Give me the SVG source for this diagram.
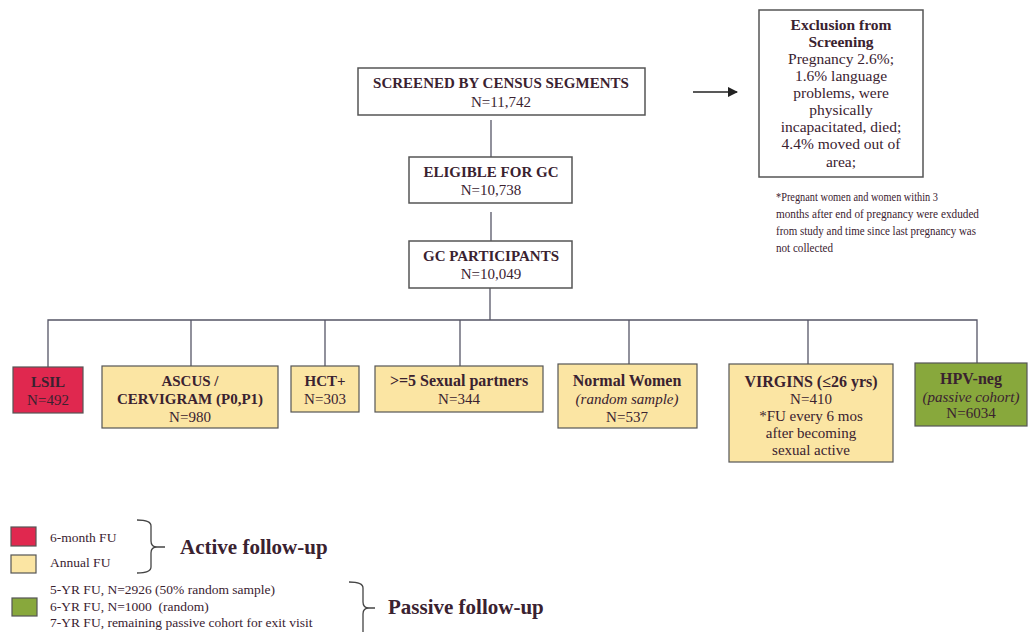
<svg xmlns="http://www.w3.org/2000/svg" width="1033" height="632" viewBox="0 0 1033 632">
<defs>
<style>
text{font-family:"Liberation Serif","DejaVu Serif",serif;fill:#3a2230;font-size:15px;}
.c{text-anchor:middle;}
.b{font-weight:bold;}
.m{font-size:16px;}
.i{font-style:italic;}
.ex{font-size:15.5px;}
.fn{font-size:13.5px;}
.lg{font-size:13.5px;}
.box{fill:#ffffff;stroke:#555555;stroke-width:1.5;}
.red{fill:#e0284f;stroke:#555555;stroke-width:1.2;}
.yel{fill:#fbe5a3;stroke:#555555;stroke-width:1.2;}
.grn{fill:#88a83c;stroke:#555555;stroke-width:1.2;}
.ln{stroke:#555566;stroke-width:1.3;fill:none;}
.br{stroke:#444444;stroke-width:1.3;fill:none;}
.big{font-size:21px;font-weight:bold;}
</style>
<marker id="ah" viewBox="0 0 10 10" refX="9" refY="5" markerWidth="7" markerHeight="7" orient="auto">
<path d="M0,0 L10,5 L0,10 z" fill="#222222"/>
</marker>
</defs>
<rect width="1033" height="632" fill="#ffffff"/>

<g id="connectors">
<line class="ln" x1="491" y1="120" x2="491" y2="157"/>
<line class="ln" x1="491" y1="212" x2="491" y2="241"/>
<line class="ln" x1="490" y1="288" x2="490" y2="320"/>
<polyline class="ln" points="48,367 48,320 977,320 977,363"/>
<line class="ln" x1="191" y1="320" x2="191" y2="366"/>
<line class="ln" x1="325" y1="320" x2="325" y2="366"/>
<line class="ln" x1="460" y1="320" x2="460" y2="366"/>
<line class="ln" x1="629" y1="320" x2="629" y2="364"/>
<line class="ln" x1="808" y1="320" x2="808" y2="364"/>
<line x1="693" y1="92" x2="737" y2="92" stroke="#222222" stroke-width="1.5" marker-end="url(#ah)"/>
</g>

<g id="screened">
<rect class="box" x="358" y="68" width="287" height="47"/>
<text class="c b" x="501" y="88">SCREENED BY CENSUS SEGMENTS</text>
<text class="c" x="501" y="107">N=11,742</text>
</g>

<g id="eligible">
<rect class="box" x="409" y="157" width="163" height="46"/>
<text class="c b" x="491" y="177">ELIGIBLE FOR GC</text>
<text class="c" x="491" y="195">N=10,738</text>
</g>

<g id="participants">
<rect class="box" x="409" y="241" width="163" height="47"/>
<text class="c b" x="491" y="261">GC PARTICIPANTS</text>
<text class="c" x="491" y="279">N=10,049</text>
</g>

<g id="exclusion">
<rect class="box" x="759" y="10" width="164" height="167"/>
<text class="c b ex" x="841" y="30">Exclusion from</text>
<text class="c b ex" x="841" y="47">Screening</text>
<text class="c ex" x="841" y="64">Pregnancy 2.6%;</text>
<text class="c ex" x="841" y="81">1.6% language</text>
<text class="c ex" x="841" y="98">problems, were</text>
<text class="c ex" x="841" y="115">physically</text>
<text class="c ex" x="841" y="132">incapacitated, died;</text>
<text class="c ex" x="841" y="149">4.4% moved out of</text>
<text class="c ex" x="841" y="167">area;</text>
</g>

<g id="footnote">
<text class="fn" x="776" y="201" textLength="162" lengthAdjust="spacingAndGlyphs">*Pregnant women and women within 3</text>
<text class="fn" x="776" y="218" textLength="203" lengthAdjust="spacingAndGlyphs">months after end of pregnancy were exduded</text>
<text class="fn" x="776" y="235" textLength="200" lengthAdjust="spacingAndGlyphs">from study and time since last pregnancy was</text>
<text class="fn" x="776" y="252" textLength="57" lengthAdjust="spacingAndGlyphs">not collected</text>
</g>

<g id="lsil">
<rect class="red" x="13" y="367" width="70" height="46"/>
<text class="c b" x="48" y="387">LSIL</text>
<text class="c" x="48" y="405">N=492</text>
</g>

<g id="ascus">
<rect class="yel" x="102" y="366" width="176" height="62"/>
<text class="c b" x="190" y="386">ASCUS /</text>
<text class="c b" x="190" y="404">CERVIGRAM (P0,P1)</text>
<text class="c" x="190" y="422">N=980</text>
</g>

<g id="hct">
<rect class="yel" x="291" y="366" width="68" height="46"/>
<text class="c b" x="325" y="386">HCT+</text>
<text class="c" x="325" y="404">N=303</text>
</g>

<g id="partners">
<rect class="yel" x="375" y="366" width="168" height="46"/>
<text class="c b m" x="459" y="386">&gt;=5 Sexual partners</text>
<text class="c" x="459" y="404">N=344</text>
</g>

<g id="normal">
<rect class="yel" x="558" y="364" width="139" height="64"/>
<text class="c b m" x="627" y="386">Normal Women</text>
<text class="c i" x="627" y="404">(random sample)</text>
<text class="c" x="627" y="422">N=537</text>
</g>

<g id="virgins">
<rect class="yel" x="729" y="364" width="164" height="98"/>
<text class="c b m" x="811" y="387">VIRGINS (≤26 yrs)</text>
<text class="c" x="811" y="404">N=410</text>
<text class="c" x="811" y="421">*FU every 6 mos</text>
<text class="c" x="811" y="438">after becoming</text>
<text class="c" x="811" y="455">sexual active</text>
</g>

<g id="hpvneg">
<rect class="grn" x="915" y="363" width="112" height="63"/>
<text class="c b m" x="971" y="384">HPV-neg</text>
<text class="c i" x="971" y="402">(passive cohort)</text>
<text class="c" x="971" y="418">N=6034</text>
</g>

<g id="legend">
<rect class="red" x="11" y="527" width="25" height="19"/>
<rect class="yel" x="11" y="555" width="25" height="18"/>
<rect class="grn" x="12" y="598" width="25" height="18"/>
<text class="lg" x="50" y="542">6-month FU</text>
<text class="lg" x="50" y="567">Annual FU</text>
<path class="br" d="M137,520 Q151,520 151,526 L151,541 Q151,547 157,547 L165,547 M157,547 Q151,547 151,553 L151,567 Q151,573 137,573"/>
<text class="big" x="180" y="554">Active follow-up</text>
<text class="lg" x="50" y="594">5-YR FU, N=2926 (50% random sample)</text>
<text class="lg" x="50" y="611" xml:space="preserve">6-YR FU, N=1000  (random)</text>
<text class="lg" x="50" y="627">7-YR FU, remaining passive cohort for exit visit</text>
<path class="br" d="M349,582 Q363,582 363,588 L363,602 Q363,608 369,608 L375,608 M369,608 Q363,608 363,614 L363,632"/>
<text class="big" x="388" y="614" font-size="22">Passive follow-up</text>
</g>
</svg>
